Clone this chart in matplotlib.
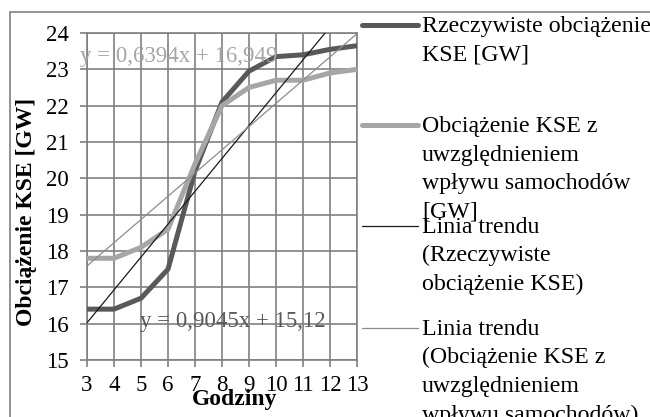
import matplotlib
matplotlib.use("Agg")
import matplotlib.pyplot as plt
import numpy as np
from matplotlib.lines import Line2D
from matplotlib.patches import Rectangle

# %%
# Data
hours = [3, 4, 5, 6, 7, 8, 9, 10, 11, 12, 13]
load_actual = [16.4, 16.4, 16.7, 17.5, 20.2, 22.1, 22.95, 23.35, 23.4, 23.55, 23.65]
load_with_cars = [17.8, 17.8, 18.1, 18.6, 20.4, 22.0, 22.5, 22.7, 22.7, 22.9, 23.0]

# Excel trend lines (x = point index 1..11)
trend_actual = (0.9045, 15.12)
trend_cars = (0.6394, 16.949)
eq_actual = "y = 0,9045x + 15,12"
eq_cars = "y = 0,6394x + 16,949"

legend_labels = [
    ["Rzeczywiste obciążenie", "KSE [GW]"],
    ["Obciążenie KSE z", "uwzględnieniem", "wpływu samochodów", "[GW]"],
    ["Linia trendu", "(Rzeczywiste", "obciążenie KSE)"],
    ["Linia trendu", "(Obciążenie KSE z", "uwzględnieniem", "wpływu samochodów)"],
]

plt.rcParams["font.family"] = ["Liberation Serif", "DejaVu Serif"]

W, H = 650, 417
fig = plt.figure(figsize=(W / 100, H / 100), dpi=100)


def px(x, y):
    # pixel position (from top-left) -> figure fraction
    return x / W, 1 - y / H


grid_c = "#808080"
dark_c = "#595959"
light_c = "#a6a6a6"
tick_fs = 16.5
legend_fs = 17.2

# outer chart border (runs off the right and bottom edges)
fig.add_artist(Rectangle(px(10, 430), 700 / W, 418 / H, transform=fig.transFigure,
                         fill=False, edgecolor=grid_c, lw=1.2))

x0, x1, y0, y1 = 87, 357, 33, 360
ax = fig.add_axes([x0 / W, 1 - y1 / H, (x1 - x0) / W, (y1 - y0) / H])

ax.plot(hours, load_actual, color=dark_c, lw=3.6, solid_capstyle="butt", zorder=3)
ax.plot(hours, load_with_cars, color=light_c, lw=3.6, solid_capstyle="butt", zorder=3)

idx = np.arange(1, len(hours) + 1)
ax.plot(hours, trend_actual[0] * idx + trend_actual[1], color="#1a1a1a", lw=0.9, zorder=4)
ax.plot(hours, trend_cars[0] * idx + trend_cars[1], color="#8c8c8c", lw=0.9, zorder=4)

ax.set_xlim(3, 13)
ax.set_ylim(15, 24)
ax.set_xticks(hours)
ax.set_yticks(range(15, 25))
ax.grid(True, color=grid_c, lw=1.2)
ax.set_axisbelow(True)
for s in ax.spines.values():
    s.set_color(grid_c)
    s.set_linewidth(1.2)
ax.tick_params(axis="both", direction="out", length=5, width=1.2, color=grid_c,
               labelsize=tick_fs, labelcolor="black")
ax.tick_params(axis="y", pad=8)
ax.tick_params(axis="x", pad=6)

ax.text(2.74, 23.34, eq_cars, color=light_c, fontsize=tick_fs, va="center", ha="left",
        clip_on=False, zorder=5)
ax.text(4.96, 16.05, eq_actual, color=dark_c, fontsize=tick_fs, va="center", ha="left",
        clip_on=False, zorder=5)

fig.text(*px(27, 212), "Obciążenie KSE [GW]", rotation=90, fontsize=17,
         fontweight="bold", ha="center", va="center")
fig.text(*px(235, 400), "Godziny", fontsize=17, fontweight="bold",
         ha="center", va="center")

# legend drawn by hand to keep Excel's overlapping layout
handle_styles = [(dark_c, 3.6), (light_c, 3.6), ("#1a1a1a", 0.9), ("#8c8c8c", 0.9)]
baselines = [32, 132, 233, 335]
for (col, lw), labels, yb in zip(handle_styles, legend_labels, baselines):
    hx0, hy = px(362, yb - 7)
    hx1, _ = px(418, yb - 7)
    fig.add_artist(Line2D([hx0, hx1], [hy, hy], transform=fig.transFigure,
                          color=col, lw=lw, solid_capstyle="round"))
    for i, line in enumerate(labels):
        fig.text(*px(422, yb + i * 28.5), line, fontsize=legend_fs, va="baseline", ha="left")

fig.savefig("out.png", dpi=100)
